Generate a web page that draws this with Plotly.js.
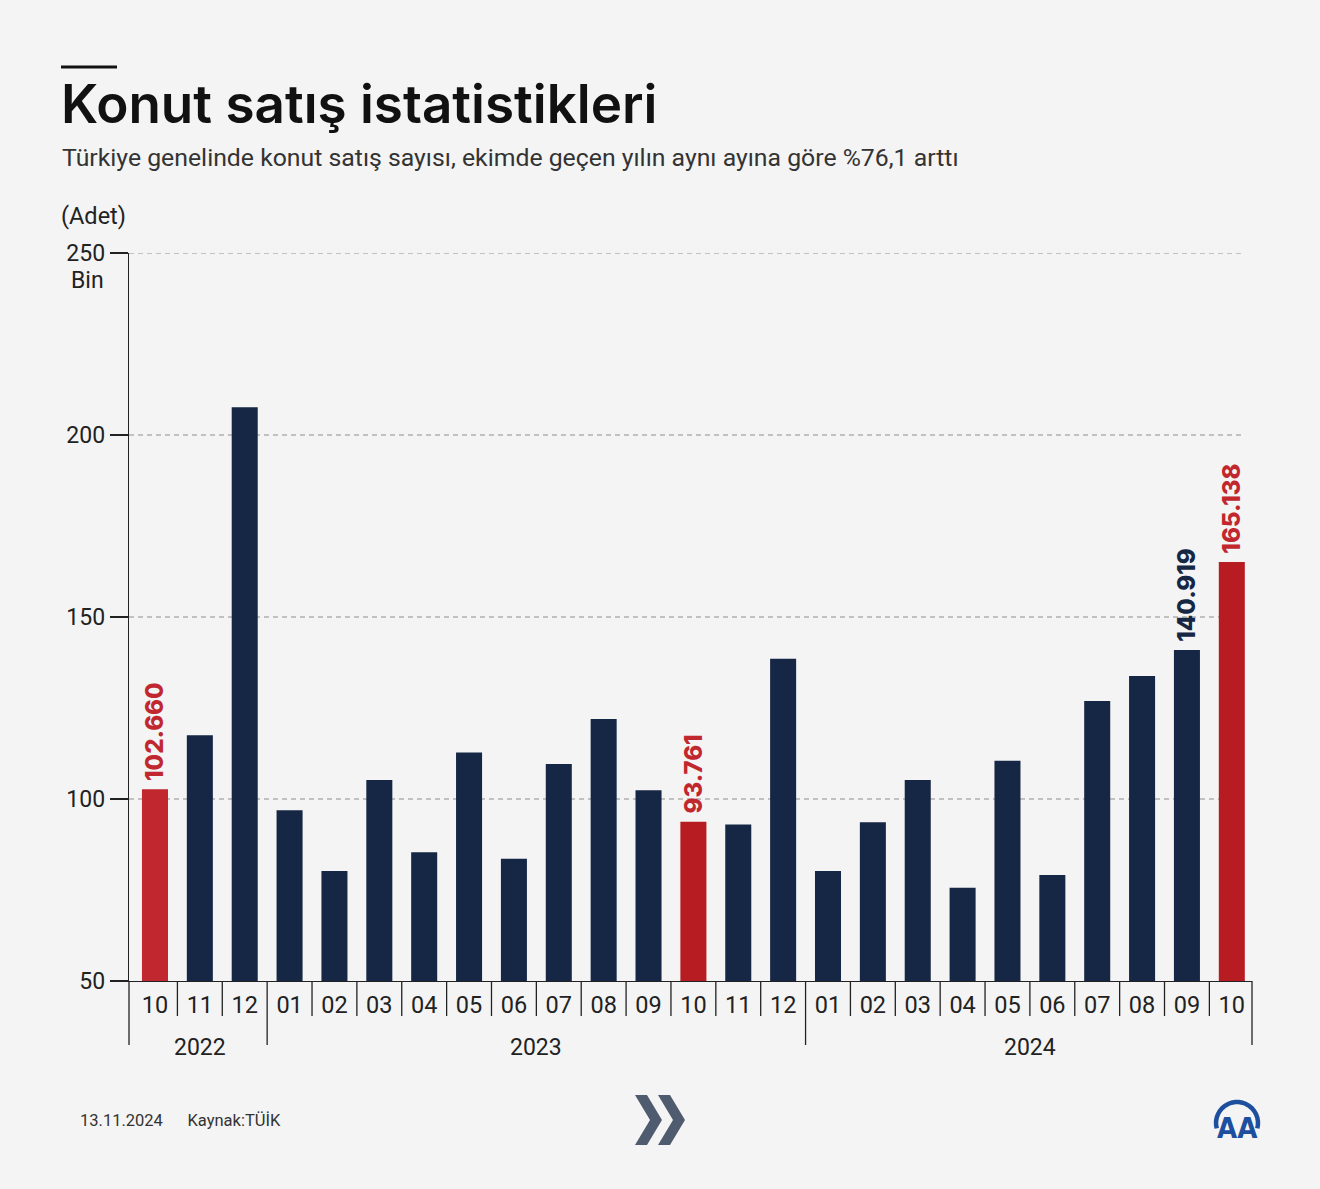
<!DOCTYPE html>
<html>
<head>
<meta charset="utf-8">
<script src="https://cdn.plot.ly/plotly-3.0.1.min.js"></script>
<style>
  html, body { margin:0; padding:0; background:#f4f4f4; }
  #chart { width:1320px; height:1189px; }
</style>
</head>
<body>
<div id="chart"></div>
<script>
// ---- data ----
const months = ['10','11','12','01','02','03','04','05','06','07','08','09','10','11','12','01','02','03','04','05','06','07','08','09','10'];
const years = ['2022','2023','2024'];
const yearStart = [0, 3, 15];
const yearEnd = [2, 14, 24];
const sales = [102.660, 117.5, 207.6, 96.9, 80.2, 105.2, 85.4, 112.8, 83.6, 109.6, 122.0, 102.4, 93.761, 93.0, 138.5,
               80.2, 93.6, 105.2, 75.6, 110.5, 79.1, 126.9, 133.8, 140.919, 165.138];
const labels = ['102.660','','','','','','','','','','','','93.761','','','','','','','','','','','140.919','165.138'];
const yTicks = [50, 100, 150, 200, 250];
const yTickText = ['50', '100', '150', '200', '250'];

const NAVY = '#152744';
const barColors = sales.map((v, i) => i === 0 ? '#c1272f' : (i === 12 || i === 24) ? '#b71c22' : NAVY);
const labelColors = sales.map((v, i) => (i === 0 || i === 12 || i === 24) ? '#c1272f' : NAVY);
const xIdx = months.map((m, i) => i);

const L = 129, R = 1252, T = 253, B = 981, W = 1320, H = 1189;
const px = x => (x - L) / (R - L);
const py = y => (B - y) / (B - T);

const shapes = [];
// x-axis separators
for (let i = 0; i <= months.length; i++) {
  const isYear = yearStart.includes(i) || i === months.length;
  const edge = i === 0 ? {xref:'paper', x:0} : (i === months.length ? {xref:'paper', x:1} : {xref:'x', x:i-0.5});
  shapes.push({type:'line', xref:edge.xref, yref:'paper', x0:edge.x, x1:edge.x, y0:0, y1: isYear ? py(1045) : py(1016),
    line:{color:'#222', width:1.3}, layer:'above'});
}
// gridlines (dashed)
[100,150,200,250].forEach(v => {
  shapes.push({type:'line', xref:'paper', yref:'y', x0:0, x1:px(1245), y0:v, y1:v,
    line:{color:'#8e8e8e', width:1.2, dash:'5px,4px'}, layer:'below'});
});
// top short rule
shapes.push({type:'line', xref:'paper', yref:'paper', x0:px(61), x1:px(117), y0:py(67), y1:py(67), line:{color:'#111', width:3}});
// chevrons
function chev(ox) {
  const pts = [[ox,1095],[ox+12,1095],[ox+27,1120],[ox+12,1145],[ox,1145],[ox+15,1120]];
  return 'M' + pts.map(p => px(p[0]).toFixed(5) + ',' + py(p[1]).toFixed(5)).join(' L') + ' Z';
}
shapes.push({type:'path', xref:'paper', yref:'paper', path:chev(635), fillcolor:'#4f5c70', line:{width:0}});
shapes.push({type:'path', xref:'paper', yref:'paper', path:chev(658), fillcolor:'#4f5c70', line:{width:0}});
// AA logo arc
(function(){
  const cx = 1237, cy = 1123, r = 21;
  let d = '';
  for (let a = 195; a >= -15; a -= 10) {
    const rad = a * Math.PI / 180;
    const x = cx + r * Math.cos(rad), y = cy - r * Math.sin(rad);
    d += (d ? ' L' : 'M') + px(x).toFixed(5) + ',' + py(y).toFixed(5);
  }
  shapes.push({type:'path', xref:'paper', yref:'paper', path:d, line:{color:'#1d4f9e', width:4.5}});
})();

const annotations = [];
years.forEach((yr, k) => {
  annotations.push({xref:'x', yref:'paper', x:(yearStart[k] + yearEnd[k]) / 2, y:py(1047), text:yr, showarrow:false,
    font:{family:'Roboto', size:23, color:'#222'}, xanchor:'center', yanchor:'middle'});
});
annotations.push({xref:'paper', yref:'paper', x:px(59), y:py(104), text:'Konut satış istatistikleri', showarrow:false,
  xanchor:'left', yanchor:'middle', font:{family:'Inter', size:53, color:'#111', weight:600}});
annotations.push({xref:'paper', yref:'paper', x:px(60), y:py(157), text:'Türkiye genelinde konut satış sayısı, ekimde geçen yılın aynı ayına göre %76,1 arttı', showarrow:false,
  xanchor:'left', yanchor:'middle', font:{family:'Roboto', size:24.8, color:'#333'}});
annotations.push({xref:'paper', yref:'paper', x:px(59), y:py(216), text:'(Adet)', showarrow:false,
  xanchor:'left', yanchor:'middle', font:{family:'Roboto', size:23.5, color:'#222'}});
annotations.push({xref:'paper', yref:'paper', x:px(106), y:py(280), text:'Bin', showarrow:false,
  xanchor:'right', yanchor:'middle', font:{family:'Roboto', size:23, color:'#222'}});
annotations.push({xref:'paper', yref:'paper', x:px(78), y:py(1120), text:'13.11.2024&nbsp;&nbsp;&nbsp;&nbsp;&nbsp;&nbsp;Kaynak:TÜİK', showarrow:false,
  xanchor:'left', yanchor:'middle', font:{family:'Roboto', size:16.5, color:'#333'}});
annotations.push({xref:'paper', yref:'paper', x:px(1237), y:py(1128), text:'<b>AA</b>', showarrow:false,
  xanchor:'center', yanchor:'middle', font:{family:'DejaVu Sans Condensed', size:29, color:'#1d4f9e'}});

const trace = {
  type:'bar', x:xIdx, y:sales, width:0.58,
  marker:{color:barColors, line:{width:0}},
  text:labels.map(t => t ? '\u00a0' + t : ''), textposition:'outside', textangle:-90, constraintext:'none', cliponaxis:false,
  textfont:{family:'Inter', size:24, color:labelColors, weight:800},
  hoverinfo:'skip'
};

const layout = {
  width:W, height:H,
  paper_bgcolor:'#f4f4f4', plot_bgcolor:'#f4f4f4',
  margin:{l:L, r:W-R, t:T, b:H-B, pad:0},
  showlegend:false,
  xaxis:{range:[-0.579, 24.45], tickmode:'array', tickvals:xIdx, ticktext:months,
    showgrid:false, zeroline:false, showline:true, linecolor:'#222', linewidth:1.3,
    ticks:'', tickfont:{family:'Roboto', size:23.5, color:'#222'}, ticklabelstandoff:2, fixedrange:true},
  yaxis:{range:[50, 250], tickmode:'array', tickvals:yTicks, ticktext:yTickText,
    showgrid:false, zeroline:false, showline:true, linecolor:'#222', linewidth:1.3,
    ticks:'outside', ticklen:18, tickwidth:1.3, tickcolor:'#222',
    tickfont:{family:'Roboto', size:23, color:'#222'}, fixedrange:true},
  shapes:shapes, annotations:annotations
};

Plotly.newPlot('chart', [trace], layout, {displayModeBar:false, staticPlot:true});
</script>
</body>
</html>
